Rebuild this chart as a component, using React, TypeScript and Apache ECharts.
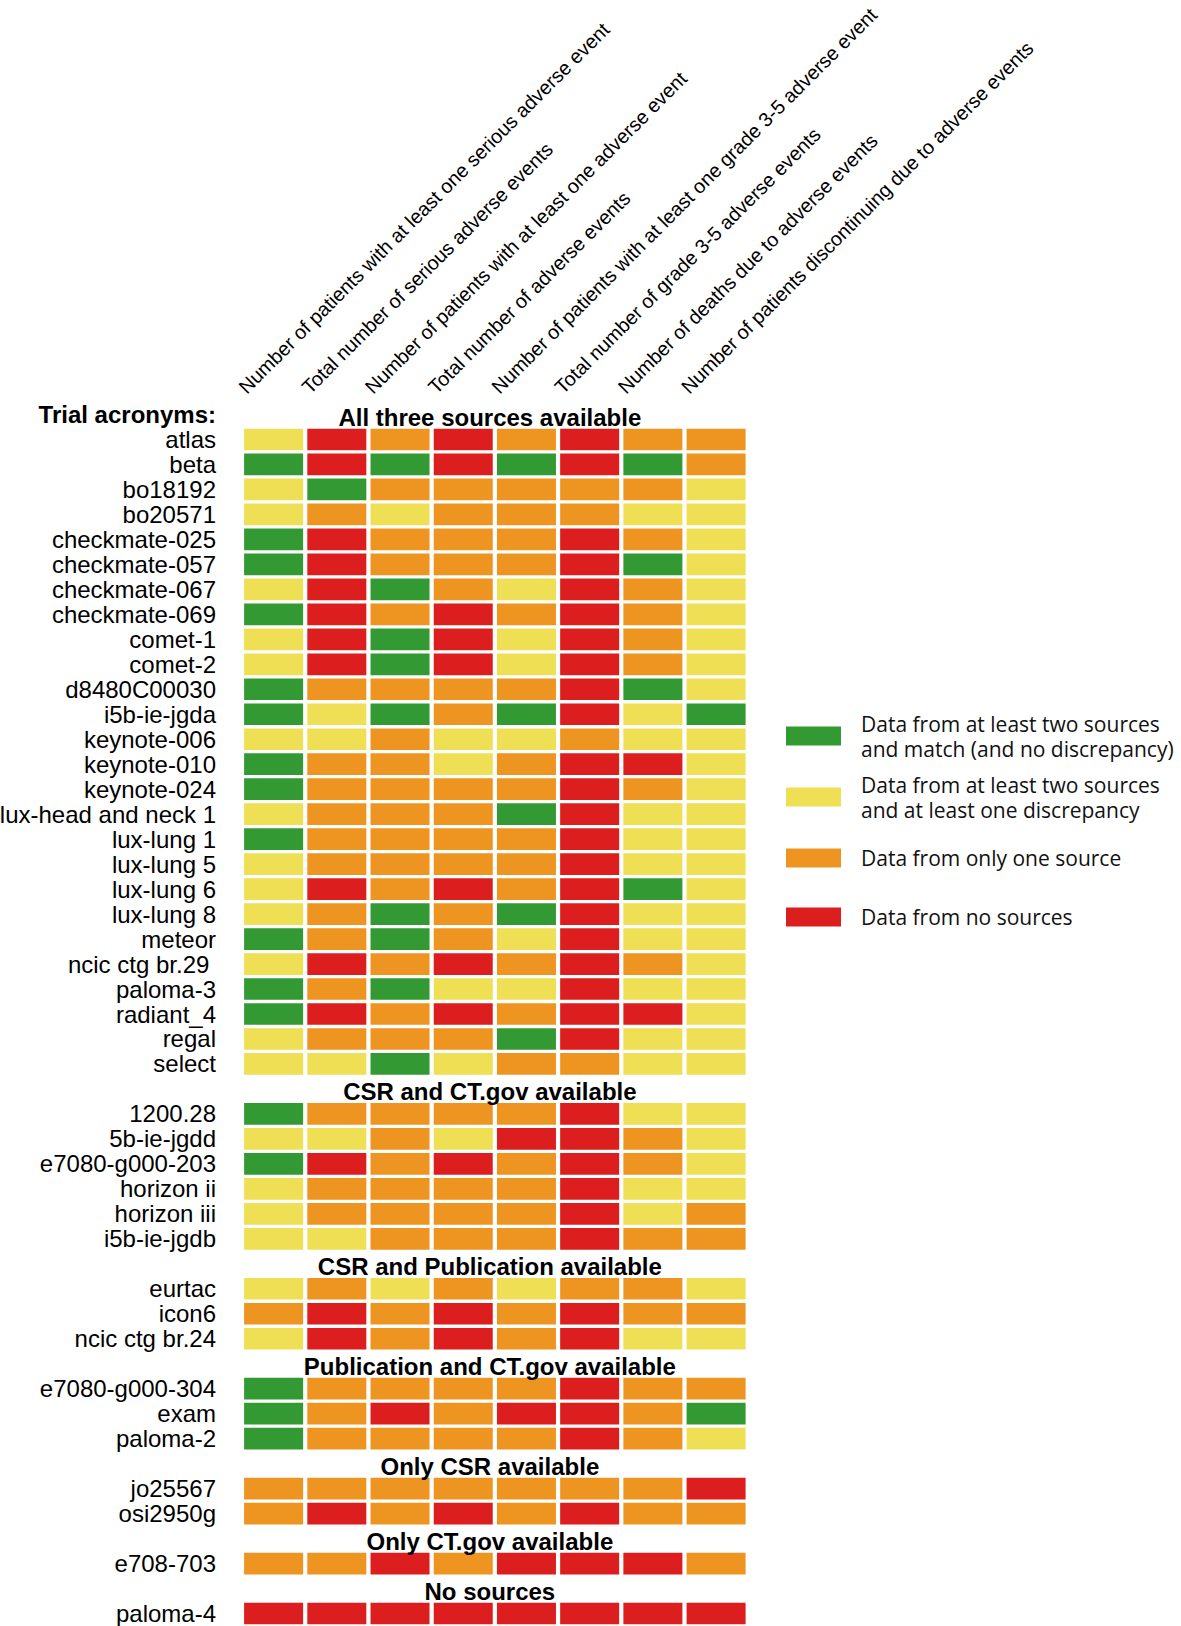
import React, { useEffect, useRef } from 'react';
import * as echarts from 'echarts';

const COLUMN_LABELS = [
  'Number of patients with at least one serious adverse event',
  'Total number of serious adverse events',
  'Number of patients with at least one adverse event',
  'Total number of adverse events',
  'Number of patients with at least one grade 3-5 adverse event',
  'Total number of grade 3-5 adverse events',
  'Number of deaths due to adverse events',
  'Number of patients discontinuing due to adverse events',
];

// status codes: G = match, Y = discrepancy, O = one source, R = no sources
const STATUS_CODES = ['G', 'Y', 'O', 'R'];
const STATUS_LABELS = [
  ['Data from at least two sources', 'and match (and no discrepancy)'],
  ['Data from at least two sources', 'and at least one discrepancy'],
  ['Data from only one source'],
  ['Data from no sources'],
];
const STATUS_COLORS = ['#339933', '#EEDF55', '#EE9420', '#DC1E1E'];

const ALL_THREE_TITLE = 'All three sources available';
const ALL_THREE_TRIALS = [
  'atlas', 'beta', 'bo18192', 'bo20571', 'checkmate-025', 'checkmate-057', 'checkmate-067',
  'checkmate-069', 'comet-1', 'comet-2', 'd8480C00030', 'i5b-ie-jgda', 'keynote-006',
  'keynote-010', 'keynote-024', 'lux-head and neck 1', 'lux-lung 1', 'lux-lung 5', 'lux-lung 6',
  'lux-lung 8', 'meteor', 'ncic ctg br.29\u00A0', 'paloma-3', 'radiant_4', 'regal', 'select',
];
const ALL_THREE_STATUS = [
  'Y R O R O R O O',
  'G R G R G R G O',
  'Y G O O O O O Y',
  'Y O Y O O O Y Y',
  'G R O O O R O Y',
  'G R O O O R G Y',
  'Y R G O Y R O Y',
  'G R O R O R O Y',
  'Y R G R Y R O Y',
  'Y R G R Y R O Y',
  'G O O O O R G Y',
  'G Y G O G R Y G',
  'Y Y O Y Y O Y Y',
  'G O O Y O R R Y',
  'G O O O O R O Y',
  'Y O O O G R Y Y',
  'G O O O O R Y Y',
  'Y O O O O R Y Y',
  'Y R O R O R G Y',
  'Y O G O G R Y Y',
  'G O G O Y R Y Y',
  'Y R O R O R O Y',
  'G O G Y Y R Y Y',
  'G R O R O R R Y',
  'Y O O O G R Y Y',
  'Y Y G Y O O Y Y',
];

const CSR_CTGOV_TITLE = 'CSR and CT.gov available';
const CSR_CTGOV_TRIALS = ['1200.28', '5b-ie-jgdd', 'e7080-g000-203', 'horizon ii', 'horizon iii', 'i5b-ie-jgdb'];
const CSR_CTGOV_STATUS = [
  'G O O O O R Y Y',
  'Y Y O Y R R O Y',
  'G R O R O R O Y',
  'Y O O O O R Y Y',
  'Y O O O O R Y O',
  'Y Y O O O R O O',
];

const CSR_PUB_TITLE = 'CSR and Publication available';
const CSR_PUB_TRIALS = ['eurtac', 'icon6', 'ncic ctg br.24'];
const CSR_PUB_STATUS = [
  'Y O Y O Y O O Y',
  'O R O R O R O O',
  'Y R O R O R Y Y',
];

const PUB_CTGOV_TITLE = 'Publication and CT.gov available';
const PUB_CTGOV_TRIALS = ['e7080-g000-304', 'exam', 'paloma-2'];
const PUB_CTGOV_STATUS = [
  'G O O O O R O O',
  'G O R O R R O G',
  'G O O O O R O Y',
];

const ONLY_CSR_TITLE = 'Only CSR available';
const ONLY_CSR_TRIALS = ['jo25567', 'osi2950g'];
const ONLY_CSR_STATUS = [
  'O O O O O O O R',
  'O R O R O R O O',
];

const ONLY_CTGOV_TITLE = 'Only CT.gov available';
const ONLY_CTGOV_TRIALS = ['e708-703'];
const ONLY_CTGOV_STATUS = ['O O R O R R R O'];

const NO_SOURCES_TITLE = 'No sources';
const NO_SOURCES_TRIALS = ['paloma-4'];
const NO_SOURCES_STATUS = ['R R R R R R R R'];

const GROUPS = [
  { title: ALL_THREE_TITLE, trials: ALL_THREE_TRIALS, status: ALL_THREE_STATUS },
  { title: CSR_CTGOV_TITLE, trials: CSR_CTGOV_TRIALS, status: CSR_CTGOV_STATUS },
  { title: CSR_PUB_TITLE, trials: CSR_PUB_TRIALS, status: CSR_PUB_STATUS },
  { title: PUB_CTGOV_TITLE, trials: PUB_CTGOV_TRIALS, status: PUB_CTGOV_STATUS },
  { title: ONLY_CSR_TITLE, trials: ONLY_CSR_TRIALS, status: ONLY_CSR_STATUS },
  { title: ONLY_CTGOV_TITLE, trials: ONLY_CTGOV_TRIALS, status: ONLY_CTGOV_STATUS },
  { title: NO_SOURCES_TITLE, trials: NO_SOURCES_TRIALS, status: NO_SOURCES_STATUS },
];

const ROW_AXIS_TITLE = 'Trial acronyms:';

const FONT = 'Liberation Sans, Arial, Helvetica, sans-serif';
const LEGEND_FONT = 'Open Sans, Noto Sans, sans-serif';
const GAP_X = 4.2;
const GAP_Y = 3.3;
// vertical centres of the legend swatches
const LEGEND_CENTERS = [736, 797, 858, 917];
const LEGEND_LINE_HEIGHT = 25;

export default function App() {
  const ref = useRef<HTMLDivElement>(null);

  useEffect(() => {
    if (!ref.current) return;
    const chart = echarts.init(ref.current, undefined, { renderer: 'svg' });

    const rowKeys: string[] = [];
    const rowLabels: string[] = [];
    const headerData: any[] = [];
    const cells: number[][][] = STATUS_CODES.map(() => []);

    GROUPS.forEach((g, gi) => {
      const hIdx = rowKeys.length;
      rowKeys.push('h' + gi);
      rowLabels.push(gi === 0 ? '{b|' + ROW_AXIS_TITLE + '}' : '');
      headerData.push({ name: g.title, value: [4, hIdx] });
      g.trials.forEach((t, ti) => {
        const rIdx = rowKeys.length;
        rowKeys.push('r' + gi + '_' + ti);
        rowLabels.push(t);
        g.status[ti].split(' ').forEach((c, ci) => {
          const s = STATUS_CODES.indexOf(c);
          cells[s].push([ci, rIdx]);
        });
      });
    });

    const seriesNames = STATUS_LABELS.map((l) => l.join(' '));

    const cellSeries = STATUS_CODES.map((code, s) => ({
      type: 'custom',
      name: seriesNames[s],
      xAxisIndex: 0,
      yAxisIndex: 0,
      itemStyle: { color: STATUS_COLORS[s] },
      encode: { x: 0, y: 1 },
      data: cells[s],
      renderItem: (params: any, api: any) => {
        const p = api.coord([api.value(0), api.value(1)]);
        const size = api.size([1, 1]);
        const w = size[0] - GAP_X;
        const h = size[1] - GAP_Y;
        return {
          type: 'rect',
          shape: { x: p[0] - w / 2, y: p[1] - h / 2, width: w, height: h },
          style: { fill: STATUS_COLORS[s] },
        };
      },
    }));

    const legends = STATUS_LABELS.map((lines, s) => ({
      orient: 'vertical',
      left: 786,
      top: LEGEND_CENTERS[s] - (lines.length * LEGEND_LINE_HEIGHT) / 2,
      padding: 0,
      itemWidth: 55,
      itemHeight: 19,
      icon: 'rect',
      selectedMode: false,
      data: [seriesNames[s]],
      formatter: () => lines.join('\n'),
      textStyle: {
        padding: [0, 0, 0, 15],
        fontSize: 21,
        lineHeight: LEGEND_LINE_HEIGHT,
        color: '#111',
        fontFamily: LEGEND_FONT,
      },
    }));

    const option: any = {
      animation: false,
      backgroundColor: '#ffffff',
      grid: {
        left: 242,
        right: 433.3,
        top: 402,
        bottom: 0,
        containLabel: false,
        outerBoundsMode: 'none',
      },
      xAxis: [
        {
          type: 'category',
          position: 'bottom',
          data: COLUMN_LABELS,
          show: false,
        },
        {
          type: 'category',
          position: 'top',
          boundaryGap: false,
          data: [...COLUMN_LABELS, ''],
          axisLine: { show: false },
          axisTick: { show: false },
          splitLine: { show: false },
          axisLabel: {
            interval: 0,
            rotate: -45,
            align: 'left',
            verticalAlign: 'middle',
            margin: 12,
            fontSize: 19.8,
            color: '#000',
            fontFamily: FONT,
          },
        },
      ],
      yAxis: {
        type: 'category',
        inverse: true,
        data: rowKeys,
        axisLine: { show: false },
        axisTick: { show: false },
        splitLine: { show: false },
        axisLabel: {
          interval: 0,
          margin: 26,
          fontSize: 24,
          color: '#000',
          fontFamily: FONT,
          formatter: (_v: string, i: number) => rowLabels[i],
          rich: {
            b: { fontSize: 24, fontWeight: 'bold', color: '#000', fontFamily: FONT },
          },
        },
      },
      legend: legends,
      series: [
        ...cellSeries,
        {
          type: 'scatter',
          name: 'headers',
          xAxisIndex: 1,
          yAxisIndex: 0,
          symbolSize: 1,
          silent: true,
          itemStyle: { color: 'rgba(0,0,0,0)', opacity: 1 },
          data: headerData,
          label: {
            show: true,
            position: 'inside',
            formatter: '{b}',
            offset: [-5, 3],
            fontSize: 24,
            fontWeight: 'bold',
            color: '#000',
            opacity: 1,
            fontFamily: FONT,
          },
        },
      ],
    };

    chart.setOption(option);
    return () => chart.dispose();
  }, []);

  return (
    <div
      ref={ref}
      style={{ position: 'absolute', left: 0, top: 0, width: 1181, height: 1626, background: '#fff' }}
    />
  );
}
